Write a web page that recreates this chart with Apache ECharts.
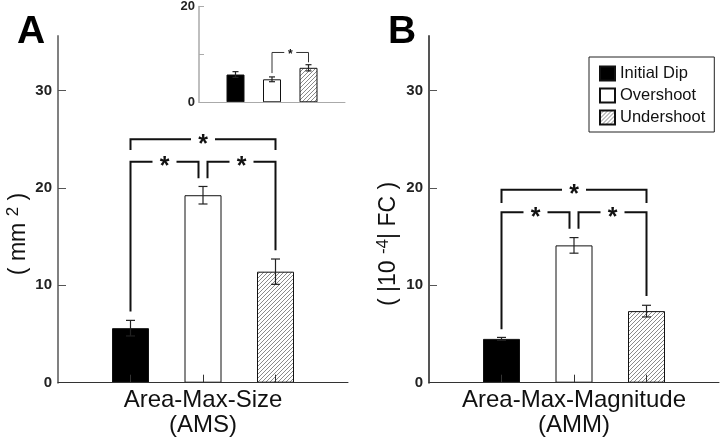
<!DOCTYPE html>
<html><head><meta charset="utf-8">
<script src="https://cdn.jsdelivr.net/npm/echarts@6/dist/echarts.min.js"></script>
<style>html,body{margin:0;padding:0;background:#fff}#c{width:720px;height:444px}</style>
</head><body><div id="c"></div>
<script>
// ---- data ----
const groups = ['Initial Dip', 'Overshoot', 'Undershoot'];
const amsMean = [5.6, 19.25, 11.4];
const amsErr = [0.8, 0.9, 1.3];
const ammMean = [4.5, 14.1, 7.35];
const ammErr = [0.15, 0.8, 0.6];
const insetMean = [5.8, 4.8, 7.2];
const insetErr = [0.6, 0.5, 0.65];
const mainTicks = [0, 10, 20, 30];
const insetTicks = [0, 10, 20];
const insetLabels = [0, 20];
// [fromIndex, toIndex, bracketLevel, leftEnd, rightEnd]
const amsBrackets = [[1, 3, 25.0, 23.9, 23.9], [1, 2, 22.7, 7.3, 21.0], [2, 3, 22.7, 21.0, 13.6]];
const ammBrackets = [[1, 3, 19.8, 18.45, 18.45], [1, 2, 17.5, 5.5, 15.8], [2, 3, 17.5, 15.8, 8.9]];
const insetBrackets = [[2, 3, 10.4, 6.1, 8.35]];
const panelLabels = ['A', 'B'];
const xNames = ['Area-Max-Size\n(AMS)', 'Area-Max-Magnitude\n(AMM)'];
const yNames = ['( mm {sup|2} )', '( |10 {sup|-4}| FC )'];
const cats = [''].concat(groups, ['']);

// ---- styles ----
const FONT = 'Liberation Sans';
function hatch() {
  const c = document.createElement('canvas'); c.width = c.height = 4;
  const g = c.getContext('2d');
  g.fillStyle = '#fff'; g.fillRect(0, 0, 4, 4);
  g.strokeStyle = '#8a8a8a'; g.lineWidth = 1;
  g.beginPath();
  g.moveTo(0, 4); g.lineTo(4, 0);
  g.moveTo(-1, 1); g.lineTo(1, -1);
  g.moveTo(3, 5); g.lineTo(5, 3);
  g.stroke();
  return c;
}
const fills = ['#000', '#fff', { image: hatch(), repeat: 'repeat' }];
const midIdx = 2;

const grids = [
  { left: 58, top: 36, width: 290, height: 346.7 },
  { left: 429, top: 36, width: 290, height: 346.7 },
  { left: 199, top: 5, width: 146, height: 97.3 }
];

const xAxes = [0, 1].map(g => ({
  type: 'category', gridIndex: g, data: cats, boundaryGap: false, z: 5,
  axisLine: { lineStyle: { color: '#333', width: 1 } },
  axisTick: { inside: true, length: 8, interval: (i) => i >= 1 && i <= 3, lineStyle: { color: '#333' } },
  axisLabel: { show: false },
  name: xNames[g], nameLocation: 'middle', nameGap: 5,
  nameTextStyle: { fontSize: 24, lineHeight: 25, color: '#111', fontFamily: FONT }
}));
xAxes.push({
  type: 'category', gridIndex: 2, data: cats, boundaryGap: false, z: 5,
  axisLine: { lineStyle: { color: '#aaa', width: 1 } },
  axisTick: { show: false }, axisLabel: { show: false }
});

const yAxes = [0, 1].map(g => ({
  type: 'value', gridIndex: g, min: 0, max: 35.6,
  splitLine: { show: false },
  axisLine: { show: true, lineStyle: { color: g === 0 ? '#808080' : '#555', width: 2 } },
  axisTick: { show: true, inside: true, length: 8, customValues: mainTicks, lineStyle: { color: '#555' } },
  axisLabel: { customValues: mainTicks, fontSize: 15, fontWeight: 'bold', color: '#222', margin: 6, fontFamily: FONT }
}));
yAxes.push({
  type: 'value', gridIndex: 2, min: 0, max: 20,
  splitLine: { show: false },
  axisLine: { show: true, lineStyle: { color: '#aaa', width: 1.5 } },
  axisTick: { show: true, inside: true, length: 5, customValues: insetTicks, lineStyle: { color: '#aaa' } },
  axisLabel: { customValues: insetLabels, fontSize: 13, fontWeight: 'bold', color: '#222', margin: 4, fontFamily: FONT }
});

const series = [];
const sets = [
  { mean: amsMean, err: amsErr, br: amsBrackets, bw: 37, cap: 4.5, star: 25, off: 4.5, gap: 12 },
  { mean: ammMean, err: ammErr, br: ammBrackets, bw: 37, cap: 4.5, star: 25, off: 4.5, gap: 12 },
  { mean: insetMean, err: insetErr, br: insetBrackets, bw: 18, cap: 3, star: 12, off: 0, gap: 6 }
];
sets.forEach((s, g) => {
  groups.forEach((name, k) => {
    series.push({
      type: 'bar', name: name, xAxisIndex: g, yAxisIndex: g, barWidth: s.bw, barGap: '-100%',
      data: cats.map((c, i) => i === k + 1 ? s.mean[k] : '-'),
      itemStyle: { color: fills[k], borderColor: '#111', borderWidth: 1 },
      z: 2, animation: false
    });
  });
  // error bars
  series.push({
    type: 'custom', xAxisIndex: g, yAxisIndex: g, z: 4, animation: false, silent: true,
    encode: { x: 0, y: 1 },
    data: groups.map((n, k) => [k + 1, s.mean[k], s.err[k]]),
    renderItem: (params, api) => {
      const x = api.value(0), m = api.value(1), e = api.value(2);
      const t = api.coord([x, m + e]), b = api.coord([x, m - e]);
      const st = { stroke: '#222', lineWidth: 1.2 };
      return { type: 'group', children: [
        { type: 'line', shape: { x1: t[0], y1: t[1], x2: b[0], y2: b[1] }, style: st },
        { type: 'line', shape: { x1: t[0] - s.cap, y1: t[1], x2: t[0] + s.cap, y2: t[1] }, style: st },
        { type: 'line', shape: { x1: b[0] - s.cap, y1: b[1], x2: b[0] + s.cap, y2: b[1] }, style: st }
      ] };
    }
  });
  // significance brackets
  series.push({
    type: 'custom', xAxisIndex: g, yAxisIndex: g, z: 4, animation: false, silent: true, clip: false,
    encode: { x: 0, y: 2 },
    data: s.br,
    renderItem: (params, api) => {
      const i1 = api.value(0), i2 = api.value(1), lv = api.value(2), e1 = api.value(3), e2 = api.value(4);
      const p1 = api.coord([i1, lv]), p2 = api.coord([i2, lv]);
      let x1 = p1[0], x2 = p2[0]; const y = p1[1];
      if (i1 === midIdx) x1 += s.off;
      if (i2 === midIdx) x2 -= s.off;
      const q1 = api.coord([i1, e1])[1], q2 = api.coord([i2, e2])[1];
      const xm = (x1 + x2) / 2;
      const lw = g === 2 ? 1 : 2;
      const col = g === 2 ? '#333' : '#111';
      return { type: 'group', children: [
        { type: 'polyline', shape: { points: [[x1, q1], [x1, y], [xm - s.gap, y]] }, style: { stroke: col, lineWidth: lw, fill: null } },
        { type: 'polyline', shape: { points: [[xm + s.gap, y], [x2, y], [x2, q2]] }, style: { stroke: col, lineWidth: lw, fill: null } },
        { type: 'text', x: xm, y: y + s.star * 0.22, style: { text: '*', fontSize: s.star, fontWeight: 'bold', fontFamily: FONT, fill: '#111', align: 'center', verticalAlign: 'middle' } }
      ] };
    }
  });
});

const supRich = { sup: { fontSize: 17, fontFamily: FONT, fill: '#111', padding: [0, 0, 12, 0] } };
const chart = echarts.init(document.getElementById('c'), null, { renderer: 'canvas' });
chart.setOption({
  animation: false,
  backgroundColor: '#fff',
  grid: grids,
  xAxis: xAxes,
  yAxis: yAxes,
  legend: {
    data: groups, orient: 'vertical', left: 589, top: 57, icon: 'rect',
    itemWidth: 15, itemHeight: 14, itemGap: 5, padding: [8, 9, 6, 10],
    borderColor: '#222', borderWidth: 1, selectedMode: false,
    textStyle: { fontSize: 16.5, fontFamily: FONT, color: '#111' }
  },
  graphic: [
    { type: 'text', left: 17, top: 13, style: { text: panelLabels[0], font: 'bold 39px "Liberation Sans"', fill: '#000' } },
    { type: 'text', left: 388, top: 13, style: { text: panelLabels[1], font: 'bold 39px "Liberation Sans"', fill: '#000' } },
    { type: 'text', x: 19, y: 234, rotation: Math.PI / 2, style: { text: yNames[0], fontSize: 23, fontFamily: FONT, fill: '#111', align: 'center', verticalAlign: 'middle', rich: supRich } },
    { type: 'text', x: 389, y: 244, rotation: Math.PI / 2, style: { text: yNames[1], fontSize: 23, fontFamily: FONT, fill: '#111', align: 'center', verticalAlign: 'middle', rich: supRich } }
  ],
  series: series
});
</script>
</body></html>
